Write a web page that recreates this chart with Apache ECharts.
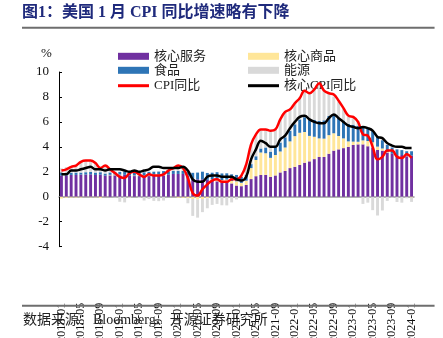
<!DOCTYPE html>
<html>
<head>
<meta charset="utf-8">
<script src="https://cdn.jsdelivr.net/npm/echarts@6/dist/echarts.min.js"></script>
<style>
  html, body { margin: 0; padding: 0; background: #fff; overflow: hidden; }
  #chart { width: 443px; height: 338px; }
</style>
</head>
<body>
<div id="chart"></div>
<script>
// Monthly categories, 2018-01 .. 2024-01
const months = [
  '2018-01','2018-02','2018-03','2018-04','2018-05','2018-06','2018-07','2018-08','2018-09','2018-10','2018-11','2018-12',
  '2019-01','2019-02','2019-03','2019-04','2019-05','2019-06','2019-07','2019-08','2019-09','2019-10','2019-11','2019-12',
  '2020-01','2020-02','2020-03','2020-04','2020-05','2020-06','2020-07','2020-08','2020-09','2020-10','2020-11','2020-12',
  '2021-01','2021-02','2021-03','2021-04','2021-05','2021-06','2021-07','2021-08','2021-09','2021-10','2021-11','2021-12',
  '2022-01','2022-02','2022-03','2022-04','2022-05','2022-06','2022-07','2022-08','2022-09','2022-10','2022-11','2022-12',
  '2023-01','2023-02','2023-03','2023-04','2023-05','2023-06','2023-07','2023-08','2023-09','2023-10','2023-11','2023-12',
  '2024-01'
];

// Contributions to CPI YoY, percentage points
const coreServices = [
  1.70,1.70,1.75,1.75,1.78,1.78,1.80,1.75,1.78,1.70,1.72,1.72,
  1.72,1.76,1.72,1.66,1.66,1.60,1.66,1.72,1.72,1.72,1.77,1.83,
  1.83,1.83,1.72,1.45,1.40,1.40,1.36,1.30,1.24,1.12,1.18,1.07,
  0.90,0.85,0.95,1.42,1.65,1.75,1.75,1.60,1.71,1.95,2.07,2.30,
  2.40,2.55,2.73,2.84,3.02,3.19,3.19,3.45,3.70,3.80,3.90,4.00,
  4.15,4.20,4.20,4.05,3.95,3.75,3.70,3.55,3.45,3.35,3.35,3.25,
  3.30
];
const coreGoods = [
  -0.14,-0.08,-0.06,-0.06,-0.06,-0.02,-0.04,-0.04,-0.10,-0.02,0.04,0.06,
  0.06,0.00,-0.04,0.04,0.06,0.10,0.10,0.06,0.06,0.06,0.00,-0.02,
  -0.08,-0.08,-0.12,-0.18,-0.22,-0.18,-0.12,0.08,0.20,0.22,0.20,0.20,
  0.34,0.26,0.34,0.88,1.30,1.80,1.74,1.52,1.64,1.68,1.88,2.14,
  2.46,2.58,2.46,2.04,1.79,1.49,1.47,1.49,1.39,1.07,0.78,0.44,
  0.27,0.21,0.32,0.42,0.42,0.27,0.17,0.04,0.00,0.00,0.00,0.04,
  -0.06
];
const food = [
  0.23,0.18,0.18,0.19,0.16,0.19,0.19,0.19,0.19,0.16,0.19,0.22,
  0.22,0.27,0.28,0.24,0.27,0.26,0.24,0.23,0.24,0.28,0.27,0.24,
  0.24,0.24,0.26,0.47,0.54,0.61,0.55,0.55,0.53,0.53,0.50,0.53,
  0.51,0.49,0.47,0.32,0.30,0.32,0.46,0.50,0.62,0.72,0.82,0.85,
  0.95,1.07,1.19,1.27,1.36,1.40,1.47,1.54,1.51,1.47,1.43,1.40,
  1.36,1.28,1.15,1.04,0.90,0.77,0.66,0.58,0.50,0.45,0.39,0.36,
  0.35
];
const energy = [
  0.35,0.50,0.53,0.62,0.92,0.95,0.95,0.80,0.43,0.66,0.25,-0.05,
  -0.40,-0.45,-0.06,0.10,-0.10,-0.30,-0.18,-0.33,-0.35,-0.30,0.00,0.26,
  0.48,0.25,-0.40,-1.35,-1.45,-1.05,-0.80,-0.65,-0.57,-0.68,-0.69,-0.45,
  -0.22,0.16,0.83,1.57,1.72,1.40,1.40,1.62,1.48,1.85,2.04,1.75,
  1.75,1.78,2.20,2.18,2.48,3.02,2.38,1.74,1.42,1.27,0.95,0.58,
  0.65,0.35,-0.57,-0.47,-1.07,-1.50,-1.10,-0.33,-0.08,-0.42,-0.47,-0.12,
  -0.35
];

// Headline and core CPI YoY, %
const cpiYoY = [
  2.1,2.2,2.4,2.5,2.8,2.9,2.9,2.7,2.3,2.5,2.2,1.9,
  1.6,1.5,1.9,2.0,1.8,1.6,1.8,1.7,1.7,1.8,2.1,2.3,
  2.5,2.3,1.5,0.3,0.1,0.6,1.0,1.3,1.4,1.2,1.2,1.4,
  1.4,1.7,2.6,4.2,5.0,5.4,5.4,5.3,5.4,6.2,6.8,7.0,
  7.5,7.9,8.5,8.3,8.6,9.1,8.5,8.3,8.2,7.7,7.1,6.5,
  6.4,6.0,5.0,4.9,4.0,3.0,3.2,3.7,3.7,3.2,3.1,3.4,
  3.1
];
const coreCpiYoY = [
  1.8,1.8,2.1,2.1,2.2,2.3,2.4,2.2,2.2,2.1,2.2,2.2,
  2.2,2.1,2.0,2.1,2.0,2.1,2.2,2.4,2.4,2.3,2.3,2.3,
  2.3,2.4,2.1,1.4,1.2,1.2,1.6,1.7,1.7,1.6,1.6,1.6,
  1.4,1.3,1.6,3.0,3.8,4.5,4.3,4.0,4.0,4.6,4.9,5.5,
  6.0,6.4,6.5,6.2,6.0,5.9,5.9,6.3,6.6,6.3,6.0,5.7,
  5.6,5.5,5.6,5.5,5.3,4.8,4.7,4.3,4.1,4.0,4.0,3.9,
  3.9
];

// Axis range and tick values
const yMin = -4, yMax = 10, yStep = 2;

const serif = '"Liberation Serif", "Times New Roman", "Noto Sans CJK SC", serif';
const cjk = '"Liberation Serif", "Noto Sans CJK SC", serif';

const chart = echarts.init(document.getElementById('chart'), null, { renderer: 'canvas', width: 443, height: 338 });

function barSeries(name, data, color) {
  return {
    name, type: 'bar', stack: 'contrib', data,
    barWidth: '60%',
    itemStyle: { color },
    emphasis: { disabled: true },
    z: 2
  };
}
function lineSeries(name, data, color) {
  return {
    name, type: 'line', data,
    smooth: 0.4, symbol: 'none', showSymbol: false,
    lineStyle: { color, width: 2.5 },
    itemStyle: { color },
    emphasis: { disabled: true },
    z: 5
  };
}

const legendText = { fontFamily: cjk, fontSize: 13, color: '#222' };
// Bar keys: two rows in two columns; line keys: a thin bar on the third row
function barLegend(left, names) {
  return { left, top: 44.8, orient: 'vertical', itemWidth: 31, itemHeight: 7, itemGap: 1,
           icon: 'rect', textStyle: legendText, data: names };
}
function lineLegend(left, name) {
  return { left, top: 74.2, orient: 'vertical', itemWidth: 31, itemHeight: 3, itemGap: 0,
           icon: 'rect', textStyle: legendText, data: [name] };
}

// Header and footer rules: blank title boxes filled grey, 2px tall
function rule(top) {
  return {
    text: '\u00a0', left: 22, top, padding: [0, 206, 0, 206],
    backgroundColor: '#6e6e6e',
    textStyle: { fontSize: 2, lineHeight: 2, color: 'rgba(0,0,0,0)' }
  };
}

chart.setOption({
  animation: false,
  backgroundColor: '#fff',
  title: [
    {
      text: '图1：美国 1 月 CPI 同比增速略有下降', left: 18, top: 1, padding: 4,
      textStyle: { fontFamily: cjk, fontSize: 16, fontWeight: 'bold', color: '#1f2a7c' }
    },
    rule(26.7),
    rule(304.7),
    {
      text: '数据来源：Bloomberg、开源证券研究所', left: 19, top: 309, padding: 4,
      textStyle: { fontFamily: cjk, fontSize: 14, fontWeight: 'normal', color: '#222' }
    },
    {
      text: '%', left: 37, top: 43, padding: 4,
      textStyle: { fontFamily: serif, fontSize: 13, fontWeight: 'normal', color: '#111' }
    }
  ],
  grid: { left: 59, right: 29, top: 72, bottom: 91.3, containLabel: false, outerBoundsMode: 'none' },
  legend: [
    barLegend(113, ['核心服务', '食品']),
    barLegend(243, ['核心商品', '能源']),
    lineLegend(113, 'CPI同比'),
    lineLegend(243, '核心CPI同比')
  ],
  xAxis: {
    type: 'category', data: months,
    axisLine: { onZero: true, lineStyle: { color: '#9a9a9a', width: 1.5 } },
    axisTick: { inside: true, length: 3, interval: 3, lineStyle: { color: '#444' } },
    axisLabel: { interval: 3, rotate: 90, margin: 56, fontFamily: serif, fontSize: 12, color: '#111' },
    splitLine: { show: false }
  },
  yAxis: {
    type: 'value', min: yMin, max: yMax, interval: yStep,
    axisLine: { show: true, lineStyle: { color: '#000', width: 1 } },
    axisTick: { show: true, inside: true, length: 3, lineStyle: { color: '#000' } },
    axisLabel: { fontFamily: serif, fontSize: 13, color: '#111', margin: 10 },
    splitLine: { show: false }
  },
  series: [
    barSeries('核心服务', coreServices, '#7030a0'),
    barSeries('核心商品', coreGoods, '#ffe699'),
    barSeries('食品', food, '#2e75b6'),
    barSeries('能源', energy, '#d9d9d9'),
    lineSeries('CPI同比', cpiYoY, '#ff0000'),
    lineSeries('核心CPI同比', coreCpiYoY, '#000000')
  ]
});
</script>
</body>
</html>
